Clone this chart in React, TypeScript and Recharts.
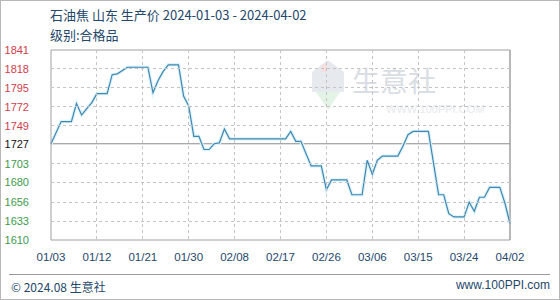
import React from 'react';
import { LineChart, Line, XAxis, YAxis, ReferenceLine } from 'recharts';

// day offset from 2024-01-03 and price (yuan/ton)
const days = [0, 2, 4, 5, 6, 8, 9, 11, 12, 13, 15, 19, 20, 21, 22, 23, 25, 26, 27, 28, 29, 30, 31, 32, 33, 34, 35, 46, 47, 48, 49, 51, 53, 54, 55, 58, 59, 61, 62, 63, 64, 65, 68, 69, 70, 71, 74, 76, 77, 78, 79, 81, 82, 83, 84, 85, 86, 88, 89, 90];
const prices = [1727, 1754, 1754, 1776, 1762, 1777, 1788, 1788, 1811, 1812, 1820, 1820, 1789, 1804, 1815, 1823, 1823, 1785, 1773, 1736, 1736, 1720, 1720, 1727, 1728, 1745, 1733, 1733, 1742, 1730, 1730, 1700, 1700, 1671, 1683, 1683, 1665, 1665, 1707, 1690, 1707, 1712, 1712, 1724, 1738, 1742, 1742, 1665, 1665, 1642, 1638, 1638, 1656, 1645, 1662, 1662, 1674, 1674, 1655, 1630];

const xTicks = [0, 9, 18, 27, 36, 45, 54, 63, 72, 81, 90];
const xLabels = ['01/03', '01/12', '01/21', '01/30', '02/08', '02/17', '02/26', '03/06', '03/15', '03/24', '04/02'];
const priceTicks = [1610, 1633, 1656, 1680, 1703, 1727, 1749, 1772, 1795, 1818, 1841];
const pctTicks = [-6.76, -5.42, -4.08, -2.75, -1.41, 0, 1.26, 2.6, 3.94, 5.28, 6.61];
const basePrice = 1727;

const data = days.map((d, i) => ({ day: d, price: prices[i] }));

const RED = '#d23c4a';
const GREEN = '#3d9a4c';
const TEXT = '#24476b';
const FONT = 'Liberation Sans, Arial, sans-serif';
const GRID = '#c4c4c4';

// plot box (chart margins + axis widths)
const PLOT_LEFT = 51;
const PLOT_RIGHT = 510;
const PLOT_TOP = 50;
const PLOT_BOTTOM = 240;

const colorFor = (v: number, base: number) => (v > base ? RED : v < base ? GREEN : '#111');

// left tick label, plus the dashed horizontal grid line at that tick
const LeftTick = (props: any) => {
  const { y, payload } = props;
  const v = payload.value as number;
  const showGrid = v !== basePrice && v !== priceTicks[0] && v !== priceTicks[priceTicks.length - 1];
  return (
    <g>
      {showGrid && (
        <line x1={PLOT_LEFT} x2={PLOT_RIGHT} y1={y} y2={y} stroke={GRID} strokeDasharray="3 3" shapeRendering="crispEdges" />
      )}
      <text x={29} y={y} dy={4} textAnchor="end" fontSize={11} fontFamily={FONT} fill={colorFor(v, basePrice)}>
        {v}
      </text>
    </g>
  );
};

const RightTick = (props: any) => {
  const { y, payload } = props;
  const v = payload.value as number;
  return (
    <text x={514} y={y} dy={4} textAnchor="start" fontSize={10.5} fontFamily={FONT} fill={colorFor(v, 0)}>
      {v.toFixed(2) + '%'}
    </text>
  );
};

// bottom tick label, plus the dashed vertical grid line at that tick
const BottomTick = (props: any) => {
  const { x, payload } = props;
  const v = payload.value as number;
  const idx = xTicks.indexOf(v);
  const showGrid = idx > 0 && idx < xTicks.length - 1;
  return (
    <g>
      {showGrid && (
        <line x1={x} x2={x} y1={PLOT_TOP} y2={PLOT_BOTTOM} stroke={GRID} strokeDasharray="3 3" shapeRendering="crispEdges" />
      )}
      <text x={x} y={261} textAnchor="middle" fontSize={11.5} fontFamily={FONT} fill={TEXT}>
        {xLabels[idx]}
      </text>
    </g>
  );
};

export default function App() {
  return (
    <div style={{ position: 'fixed', left: 0, top: 0, width: 560, height: 300, background: '#fff', overflow: 'hidden' }}>
      <div style={{ position: 'absolute', left: 0, top: 0, width: 558, height: 298, border: '1px solid #b8b8b8' }} />
      {/* watermark */}
      <svg style={{ position: 'absolute', left: 0, top: 0 }} width={560} height={300}>
        <polygon points="312,72 328,60 344,72 344,92 312,92" fill="#e6e9ee" />
        <polygon points="316,92 340,92 328,110" fill="#e3f3e6" />
        <rect x={322} y={64} width={5} height={8} fill="#f6dede" />
        <text x={352} y={92} fontSize={28} fontFamily="Noto Sans CJK SC" fill="#d9dee4">生意社</text>
        <text x={386} y={113} fontSize={11} fontFamily={FONT} fill="#e6e9ed">WWW.100PPI.COM</text>
      </svg>
      <div style={{ position: 'absolute', left: 50, top: 5, fontFamily: 'Noto Sans CJK SC', fontSize: 13, color: TEXT, lineHeight: '20px' }}>
        <div>石油焦 山东 生产价 2024-01-03 - 2024-04-02</div>
        <div>级别:合格品</div>
      </div>
      <div style={{ position: 'absolute', left: 0, top: 0 }}>
        <LineChart width={560} height={300} data={data} margin={{ top: 50, right: 0, bottom: 35, left: 0 }}>
          <XAxis
            dataKey="day"
            type="number"
            domain={[0, 90]}
            ticks={xTicks}
            height={25}
            axisLine={{ stroke: '#a0a0a0' }}
            tickLine={false}
            tick={<BottomTick />}
            interval={0}
          />
          <YAxis
            yAxisId="left"
            domain={[1610, 1841]}
            ticks={priceTicks}
            width={51}
            axisLine={{ stroke: '#a0a0a0' }}
            tickLine={false}
            tick={<LeftTick />}
            interval={0}
          />
          <YAxis
            yAxisId="right"
            orientation="right"
            domain={[-6.76, 6.61]}
            ticks={pctTicks}
            width={50}
            axisLine={{ stroke: '#a0a0a0' }}
            tickLine={false}
            tick={<RightTick />}
            interval={0}
          />
          <ReferenceLine yAxisId="left" y={1841} stroke="#a0a0a0" />
          <ReferenceLine yAxisId="left" x={90} stroke="#a0a0a0" />
          <ReferenceLine yAxisId="left" y={basePrice} stroke="#8a8a8a" />
          <Line
            yAxisId="left"
            type="linear"
            dataKey="price"
            stroke="#ddf3fb"
            strokeWidth={3.5}
            dot={false}
            activeDot={false}
            isAnimationActive={false}
          />
          <Line
            yAxisId="left"
            type="linear"
            dataKey="price"
            stroke="#3f86b0"
            strokeWidth={1.2}
            dot={false}
            activeDot={false}
            isAnimationActive={false}
          />
        </LineChart>
      </div>
      <div style={{ position: 'absolute', left: 9, top: 274, width: 541, borderTop: '1px solid #9a9a9a' }} />
      <div style={{ position: 'absolute', left: 11, top: 278, fontFamily: 'Noto Sans CJK SC', fontSize: 12, color: TEXT }}>© 2024.08 生意社</div>
      <div style={{ position: 'absolute', right: 10, top: 278, fontFamily: FONT, fontSize: 12, color: TEXT }}>www.100PPI.com</div>
    </div>
  );
}
